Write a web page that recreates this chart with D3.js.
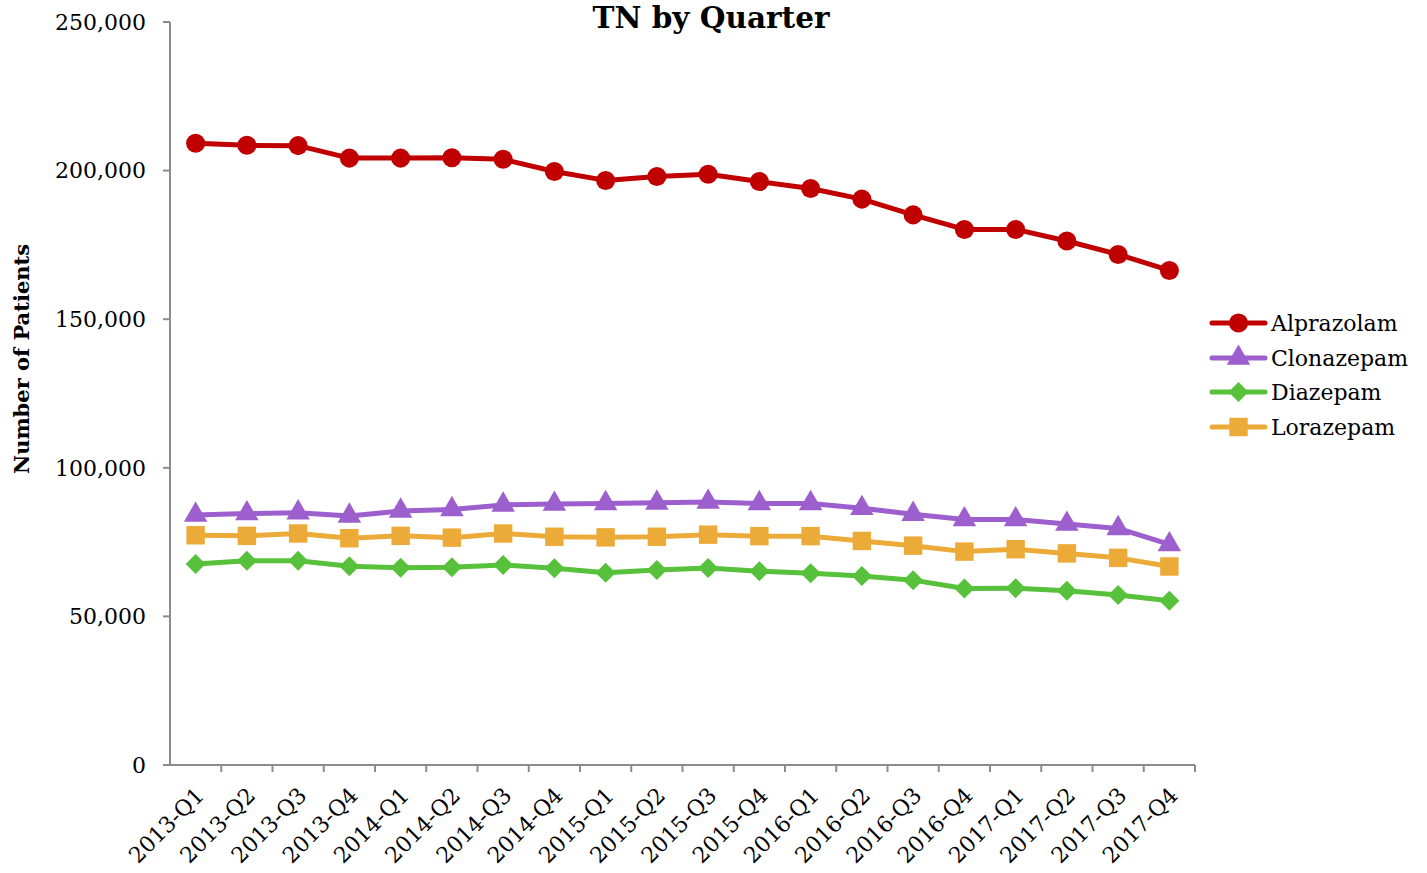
<!DOCTYPE html>
<html>
<head>
<meta charset="utf-8">
<script src="https://cdn.jsdelivr.net/npm/d3@7"></script>
<style>
  html, body { margin: 0; padding: 0; background: #fff; }
  svg { display: block; font-family: "DejaVu Serif", serif; }
</style>
</head>
<body>
<svg id="chart" width="1427" height="873"></svg>
<script>
// Quarterly patient counts for each benzodiazepine
const quarters = ["2013-Q1","2013-Q2","2013-Q3","2013-Q4","2014-Q1","2014-Q2","2014-Q3","2014-Q4",
  "2015-Q1","2015-Q2","2015-Q3","2015-Q4","2016-Q1","2016-Q2","2016-Q3","2016-Q4",
  "2017-Q1","2017-Q2","2017-Q3","2017-Q4"];
const alprazolam = [209200,208500,208400,204200,204200,204300,203800,199700,196700,198000,
  198800,196300,194000,190400,185100,180200,180200,176300,171800,166400];
const clonazepam = [84100,84600,84900,83800,85500,86000,87500,87800,88000,88200,
  88500,88000,88000,86400,84400,82600,82600,81100,79600,74200];
const diazepam = [67600,68700,68700,66900,66400,66500,67300,66200,64700,65600,
  66300,65200,64500,63600,62200,59400,59500,58600,57200,55300];
const lorazepam = [77300,77100,77900,76300,77100,76500,77900,76800,76600,76800,
  77500,77000,77000,75400,73800,71800,72600,71200,69700,66800];
const seriesNames = ["Alprazolam","Clonazepam","Diazepam","Lorazepam"];
const seriesValues = [alprazolam, clonazepam, diazepam, lorazepam];
const seriesColors = ["#C00000","#9C5FCD","#57C13B","#ECAB38"];
const yTicks = [0, 50000, 100000, 150000, 200000, 250000];

// Marker shapes: circle, triangle, diamond (square turned 45°), square
const markerPaths = [
  d3.symbol().type(d3.symbolCircle).size(285)(),
  d3.symbol().type(d3.symbolTriangle).size(240)(),
  d3.symbol().type(d3.symbolSquare).size(200)(),
  d3.symbol().type(d3.symbolSquare).size(340)()
];
const markerRotate = [0, 0, 45, 0];

const svg = d3.select("#chart");
const plotLeft = 170, plotRight = 1195, plotTop = 22, plotBottom = 765;
const axisColor = "#8c8c8c";

const x = d3.scaleBand().domain(quarters).range([plotLeft, plotRight]).padding(0);
const y = d3.scaleLinear().domain([0, 250000]).range([plotBottom, plotTop]);
const cx = q => x(q) + x.bandwidth() / 2;
const fmt = d3.format(",");

// Title
svg.append("text")
  .attr("x", 711).attr("y", 28)
  .attr("text-anchor", "middle")
  .attr("font-size", 29.5).attr("font-weight", "bold")
  .text("TN by Quarter");

// Y axis title
svg.append("text")
  .attr("transform", "translate(29,359) rotate(-90)")
  .attr("text-anchor", "middle")
  .attr("font-size", 21).attr("font-weight", "bold")
  .text("Number of Patients");

// Y axis
const yAxis = svg.append("g");
yAxis.append("line")
  .attr("x1", plotLeft).attr("x2", plotLeft).attr("y1", y(250000)).attr("y2", plotBottom)
  .attr("stroke", axisColor).attr("stroke-width", 2);
yAxis.selectAll(".ytick").data(yTicks).join("line")
  .attr("x1", plotLeft - 7).attr("x2", plotLeft)
  .attr("y1", d => y(d)).attr("y2", d => y(d))
  .attr("stroke", axisColor).attr("stroke-width", 2);
yAxis.selectAll(".ylab").data(yTicks).join("text")
  .attr("x", plotLeft - 24).attr("y", d => y(d))
  .attr("dy", "0.35em")
  .attr("text-anchor", "end")
  .attr("font-size", 22)
  .text(d => fmt(d));

// X axis
const xAxis = svg.append("g");
xAxis.append("line")
  .attr("x1", plotLeft - 7).attr("x2", plotRight).attr("y1", plotBottom).attr("y2", plotBottom)
  .attr("stroke", axisColor).attr("stroke-width", 2);
const boundaries = quarters.map(q => x(q)).concat([plotRight]);
xAxis.selectAll(".xtick").data(boundaries.slice(1)).join("line")
  .attr("x1", d => d).attr("x2", d => d)
  .attr("y1", plotBottom).attr("y2", plotBottom + 7)
  .attr("stroke", axisColor).attr("stroke-width", 2);
xAxis.selectAll(".xlab").data(quarters).join("text")
  .attr("transform", q => `translate(${cx(q) - 1},${plotBottom + 21}) rotate(-45)`)
  .attr("text-anchor", "end")
  .attr("dy", "0.7em")
  .attr("font-size", 22)
  .text(q => q);

// Series lines and markers
const line = d3.line().x((d, i) => cx(quarters[i])).y(d => y(d));
seriesValues.forEach((vals, s) => {
  const g = svg.append("g");
  g.append("path")
    .attr("d", line(vals))
    .attr("fill", "none")
    .attr("stroke", seriesColors[s])
    .attr("stroke-width", 5)
    .attr("stroke-linejoin", "round");
  g.selectAll("path.mk").data(vals).join("path")
    .attr("class", "mk")
    .attr("transform", (d, i) => `translate(${cx(quarters[i])},${y(d)}) rotate(${markerRotate[s]})`)
    .attr("d", markerPaths[s])
    .attr("fill", seriesColors[s]);
});

// Legend
const legendY = [323, 358, 392, 427];
seriesNames.forEach((name, s) => {
  const g = svg.append("g").attr("transform", `translate(1212,${legendY[s]})`);
  g.append("line")
    .attr("x1", 0).attr("x2", 53).attr("y1", 0).attr("y2", 0)
    .attr("stroke", seriesColors[s]).attr("stroke-width", 5)
    .attr("stroke-linecap", "round");
  g.append("path")
    .attr("transform", `translate(26.5,0) rotate(${markerRotate[s]})`)
    .attr("d", markerPaths[s])
    .attr("fill", seriesColors[s]);
  g.append("text")
    .attr("x", 59).attr("y", 0).attr("dy", "0.35em")
    .attr("font-size", 22)
    .text(name);
});
</script>
</body>
</html>
